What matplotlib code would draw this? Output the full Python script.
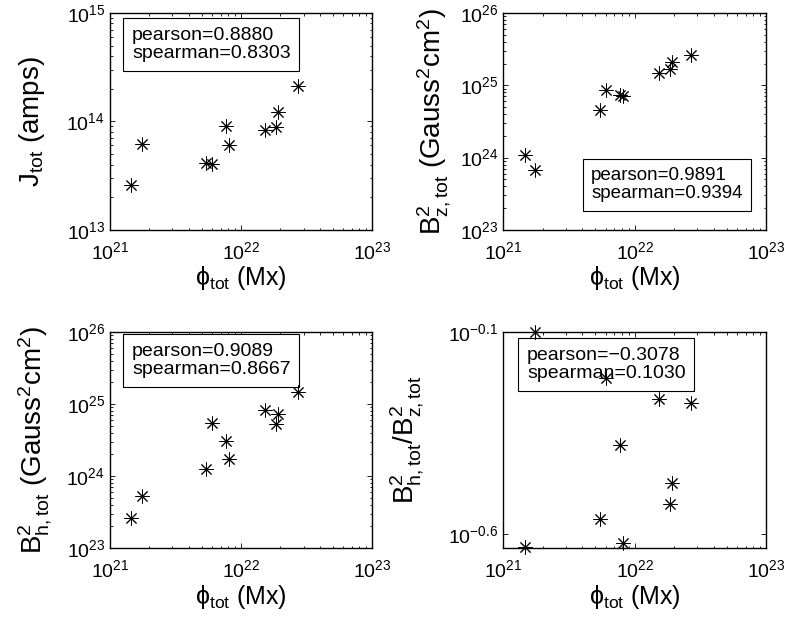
import numpy as np
import matplotlib
matplotlib.use("Agg")
import matplotlib.pyplot as plt
from matplotlib.ticker import LogLocator, FixedLocator, FixedFormatter, NullLocator

plt.rcParams['font.family'] = ['Liberation Sans', 'DejaVu Sans']
plt.rcParams['mathtext.fontset'] = 'custom'
plt.rcParams['mathtext.rm'] = 'Liberation Sans'
plt.rcParams['mathtext.it'] = 'Liberation Sans:italic'
plt.rcParams['mathtext.default'] = 'rm'

# total unsigned flux (Mx)
phi_tot = [1.46e21, 1.76e21, 5.43e21, 6.0e21, 7.67e21, 8.09e21, 1.52e22, 1.85e22, 1.93e22, 2.70e22]
# total current (amps)
j_tot = [2.57e13, 6.18e13, 4.15e13, 4.06e13, 9.0e13, 6.05e13, 8.3e13, 8.8e13, 1.21e14, 2.13e14]
# vertical field energy proxy
bz2_tot = [1.10e24, 6.73e23, 4.49e24, 8.65e24, 7.31e24, 7.08e24, 1.46e25, 1.69e25, 2.11e25, 2.66e25]
# horizontal field energy proxy
bh2_tot = [2.60e23, 5.36e23, 1.27e24, 5.38e24, 3.09e24, 1.73e24, 8.22e24, 5.27e24, 7.24e24, 1.48e25]
# ratio Bh^2 / Bz^2
ratio = [0.2328, 0.7943, 0.2735, 0.6095, 0.4159, 0.2393, 0.5433, 0.2985, 0.3365, 0.5297]

stats = [("0.8880", "0.8303"), ("0.9891", "0.9394"), ("0.9089", "0.8667"), ("\u22120.3078", "0.1030")]

fig = plt.figure(figsize=(7.85, 6.18), dpi=100)

positions = [
    [0.140, 0.628, 0.334, 0.351],
    [0.641, 0.628, 0.335, 0.351],
    [0.140, 0.113, 0.334, 0.350],
    [0.641, 0.113, 0.335, 0.350],
]
ydata = [j_tot, bz2_tot, bh2_tot, ratio]
ylims = [(1e13, 1e15), (1e23, 1e26), (1e23, 1e26), (10 ** -0.635, 10 ** -0.1)]
ylabels = [
    r"J$_{tot}$ (amps)",
    r"B$^2_{z,tot}$ (Gauss$^2$cm$^2$)",
    r"B$^2_{h,tot}$ (Gauss$^2$cm$^2$)",
    r"B$^2_{h,tot}$/B$^2_{z,tot}$",
]
ypads = [14, 5, 9, 16]
# text (left, top) in axes fraction
box_pos = [(0.084, 0.935), (0.335, 0.29), (0.084, 0.95), (0.091, 0.93)]
box_fs = [14, 13.5, 14, 14]

for i in range(4):
    ax = fig.add_axes(positions[i])
    ax.plot(phi_tot, ydata[i], linestyle='none', marker=(8, 2, 0), markersize=10,
            markeredgewidth=0.7, color='black', clip_on=False, zorder=3)
    ax.set_xscale('log')
    ax.set_yscale('log')
    ax.set_xlim(1e21, 1e23)
    ax.set_ylim(*ylims[i])
    ax.xaxis.set_major_locator(LogLocator(base=10, numticks=10))
    ax.xaxis.set_minor_locator(LogLocator(base=10, subs=np.arange(2, 10), numticks=20))
    if i == 3:
        ax.yaxis.set_major_locator(FixedLocator([10 ** -0.6, 10 ** -0.1]))
        ax.yaxis.set_major_formatter(FixedFormatter([r"10$^{-0.6}$", r"10$^{-0.1}$"]))
        ax.yaxis.set_minor_locator(NullLocator())
    else:
        ax.yaxis.set_major_locator(LogLocator(base=10, numticks=10))
        ax.yaxis.set_minor_locator(LogLocator(base=10, subs=np.arange(2, 10), numticks=20))
    ax.tick_params(which='both', direction='in', top=True, right=True, labelsize=14, width=0.6)
    ax.tick_params(which='major', length=3.5)
    ax.tick_params(which='minor', length=1.8)
    ax.tick_params(axis='x', which='major', pad=8)
    for s in ax.spines.values():
        s.set_linewidth(1.0)
    ax.set_xlabel("\u03d5$_{tot}$ (Mx)", fontsize=18, labelpad=1)
    ax.set_ylabel(ylabels[i], fontsize=20, labelpad=ypads[i])
    p, s = stats[i]
    ax.text(box_pos[i][0], box_pos[i][1], "pearson=" + p + "\nspearman=" + s,
            transform=ax.transAxes, ha='left', va='top', fontsize=box_fs[i], linespacing=1.1,
            bbox=dict(boxstyle='square,pad=0.45', facecolor='white', edgecolor='black', linewidth=0.8),
            zorder=2)

fig.savefig("out.png", dpi=100)
